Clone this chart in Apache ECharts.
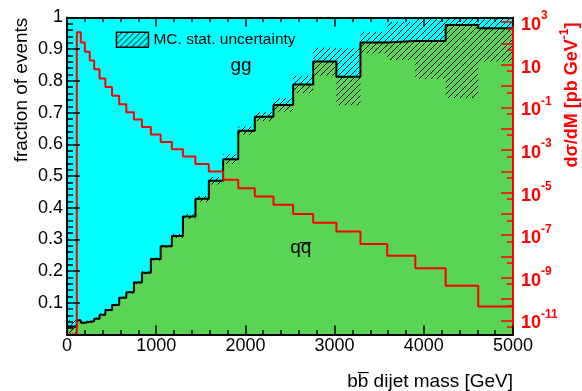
<!DOCTYPE html>
<html>
<head>
<meta charset="utf-8">
<script src="https://cdn.jsdelivr.net/npm/echarts@6/dist/echarts.min.js"></script>
<style>html,body{margin:0;padding:0;background:#fff}#c{width:582px;height:391px}</style>
</head>
<body>
<div id="c"></div>
<script>
// ---- data ----
const binEdges = [0,110,155,200,255,305,365,430,505,585,665,750,840,940,1050,1175,1300,1440,1590,1750,1920,2105,2315,2535,2760,3020,3290,3590,3905,4245,4610,5000];
const qqFraction = [0.025,0.045,0.037,0.040,0.042,0.050,0.062,0.077,0.093,0.116,0.133,0.164,0.195,0.238,0.278,0.311,0.372,0.428,0.485,0.553,0.643,0.687,0.724,0.789,0.861,0.813,0.921,0.926,0.926,0.976,0.966];
const qqFractionErr = [0.02,0.004,0.004,0.004,0.004,0.004,0.004,0.004,0.004,0.004,0.004,0.005,0.005,0.005,0.005,0.006,0.008,0.009,0.012,0.015,0.013,0.014,0.021,0.027,0.044,0.09,0.034,0.06,0.12,0.23,0.105];
const dSigmaDM = [0,340,112,41,16,6.2,2.3,0.91,0.355,0.141,0.059,0.027,0.012,5.4e-3,2.4e-3,1.1e-3,4.9e-4,2.2e-4,9.8e-5,4.0e-5,1.6e-5,6.5e-6,2.7e-6,1.0e-6,3.8e-7,1.5e-7,3.9e-8,1.1e-8,2.8e-9,4.3e-10,4.5e-11];
const xTickLabels = [0,1000,2000,3000,4000,5000];
const sigmaLabelExponents = [-11,-9,-7,-5,-3,-1,1,3];
const sigmaMajorExponents = [-11,-10,-9,-8,-7,-6,-5,-4,-3,-2,-1,0,1,2,3];
const sigmaLogRange = [-11.66, 3.22];

const FONT = 'Liberation Sans, Arial, Helvetica, sans-serif';

// hatch pattern
const pc = document.createElement('canvas');
pc.width = 6; pc.height = 6;
const g = pc.getContext('2d');
g.strokeStyle = '#000'; g.lineWidth = 1;
g.beginPath();
g.moveTo(0,6); g.lineTo(6,0);
g.moveTo(-1,1); g.lineTo(1,-1);
g.moveTo(5,7); g.lineTo(7,5);
g.stroke();
const hatch = {image: pc, repeat: 'repeat'};

const nb = qqFraction.length;
const fracLine = [];
const sigLine = [];
for (let i = 0; i < nb; i++) {
  fracLine.push([binEdges[i], qqFraction[i]]);
  sigLine.push([binEdges[i], dSigmaDM[i] > 0 ? Math.log10(dSigmaDM[i]) : sigmaLogRange[0]]);
}
fracLine.push([binEdges[nb], qqFraction[nb-1]]);
sigLine.push([binEdges[nb], Math.log10(dSigmaDM[nb-1])]);
const errData = [];
for (let i = 0; i < nb; i++) {
  errData.push([binEdges[i], binEdges[i+1], qqFraction[i]-qqFractionErr[i], qqFraction[i]+qqFractionErr[i]]);
}

const chart = echarts.init(document.getElementById('c'), null, {renderer: 'canvas'});
const tickStyle = {color: '#000', width: 1.5};
chart.setOption({
  animation: false,
  backgroundColor: '#fff',
  grid: {left: 67, right: 69, top: 17.5, bottom: 56.5, show: true, backgroundColor: '#00FFFF', borderWidth: 0},
  legend: {
    left: 115.7, top: 31.5, padding: 0, itemWidth: 32, itemHeight: 15, selectedMode: false,
    data: [{name: 'MC. stat. uncertainty', icon: 'rect', itemStyle: {color: hatch, borderColor: '#000', borderWidth: 1.5}}],
    textStyle: {fontSize: 15.5, color: '#000', fontFamily: FONT}
  },
  xAxis: [
    {type: 'value', position: 'bottom', min: 0, max: 5000, interval: 1000, z: 10,
     axisLine: {show: true, onZero: false, lineStyle: {color: '#000', width: 2}},
     axisTick: {show: true, inside: true, length: 9, lineStyle: tickStyle},
     minorTick: {show: true, splitNumber: 5, length: 4.5, lineStyle: tickStyle},
     axisLabel: {fontSize: 18, color: '#000', fontFamily: FONT, margin: 3,
                 customValues: xTickLabels, formatter: v => String(Math.round(v))},
     splitLine: {show: false}},
    {type: 'value', position: 'top', min: 0, max: 5000, interval: 1000, z: 10,
     axisLine: {show: true, onZero: false, lineStyle: {color: '#000', width: 2}},
     axisTick: {show: true, inside: true, length: 9, lineStyle: tickStyle},
     minorTick: {show: true, splitNumber: 5, length: 4.5, lineStyle: tickStyle},
     axisLabel: {show: false}, splitLine: {show: false}}
  ],
  yAxis: [
    {type: 'value', position: 'left', min: 0, max: 1, interval: 0.1, z: 10,
     axisLine: {show: true, onZero: false, lineStyle: {color: '#000', width: 2}},
     axisTick: {show: true, inside: true, length: 13, lineStyle: tickStyle},
     minorTick: {show: true, splitNumber: 5, length: 6, lineStyle: tickStyle},
     axisLabel: {fontSize: 18, color: '#000', fontFamily: FONT, margin: 4,
                 formatter: v => (Math.abs(v) < 1e-9 ? '' : String(+v.toFixed(1)))},
     splitLine: {show: false}},
    {type: 'value', position: 'right', min: sigmaLogRange[0], max: sigmaLogRange[1], z: 10,
     axisLine: {show: true, onZero: false, lineStyle: {color: '#FF0000', width: 2}},
     axisTick: {show: true, inside: true, length: 12, customValues: sigmaMajorExponents, lineStyle: {color: '#FF0000', width: 1.5}},
     axisLabel: {margin: 8, customValues: sigmaLabelExponents,
       formatter: v => { const n = Math.round(v); return n === 1 ? '{b|10}' : '{b|10}{s|' + n + '}'; },
       rich: {
         b: {fontSize: 18, fontWeight: 'bold', color: '#FF0000', fontFamily: FONT, lineHeight: 24, verticalAlign: 'bottom'},
         s: {fontSize: 12, fontWeight: 'bold', color: '#FF0000', fontFamily: FONT, lineHeight: 12, verticalAlign: 'top'}
       }},
     splitLine: {show: false}},
    {type: 'value', position: 'right', min: sigmaLogRange[0], max: sigmaLogRange[1], z: 10,
     axisLine: {show: false, onZero: false},
     axisTick: {show: true, inside: true, length: 6, customValues: sigmaMajorExponents.map(n => n - 0.301), lineStyle: {color: '#FF0000', width: 1.5}},
     axisLabel: {show: false}, splitLine: {show: false}}
  ],
  series: [
    {type: 'line', name: 'qq area', step: 'end', data: fracLine, symbol: 'none', z: 2,
     lineStyle: {width: 0}, areaStyle: {color: '#59D454', opacity: 1}, silent: true},
    {type: 'custom', name: 'MC. stat. uncertainty', z: 3, data: errData,
     encode: {x: [0, 1], y: [2, 3]},
     renderItem: (params, api) => {
       const p0 = api.coord([api.value(0), api.value(3)]);
       const p1 = api.coord([api.value(1), api.value(2)]);
       const rect = echarts.graphic.clipRectByRect(
         {x: p0[0], y: p0[1], width: p1[0] - p0[0], height: p1[1] - p0[1]},
         {x: params.coordSys.x, y: params.coordSys.y, width: params.coordSys.width, height: params.coordSys.height});
       if (!rect) return null;
       return {type: 'rect', shape: rect, style: {fill: hatch, stroke: null}};
     },
     itemStyle: {color: hatch}},
    {type: 'line', name: 'qq outline', step: 'end', data: fracLine, symbol: 'none', z: 4,
     lineStyle: {color: '#000', width: 2}},
    {type: 'line', name: 'dsigma', step: 'end', data: sigLine, yAxisIndex: 1, symbol: 'none', z: 5,
     lineStyle: {color: '#FF0000', width: 2}}
  ],
  graphic: [
    {type: 'text', x: 22, y: 90, rotation: Math.PI / 2, z: 20,
     style: {text: 'fraction of events', fontSize: 19, fontFamily: FONT, fill: '#000', align: 'center', verticalAlign: 'middle'}},
    {type: 'text', x: 570, y: 95, rotation: Math.PI / 2, z: 20,
     style: {text: '{a|d\u03c3/dM [pb GeV}{s|-1}{a|]}', align: 'center', verticalAlign: 'middle',
       rich: {
         a: {fontSize: 18, fontWeight: 'bold', fontFamily: FONT, fill: '#FF0000', lineHeight: 22, verticalAlign: 'bottom'},
         s: {fontSize: 12, fontWeight: 'bold', fontFamily: FONT, fill: '#FF0000', lineHeight: 12, verticalAlign: 'top'}
       }}},
    {type: 'text', x: 513, y: 381.5, z: 20,
     style: {text: 'bb\u0305 dijet mass [GeV]', fontSize: 19, fontFamily: FONT, fill: '#000', align: 'right', verticalAlign: 'middle'}},
    {type: 'text', x: 241, y: 66, z: 20,
     style: {text: 'gg', fontSize: 19, fontFamily: FONT, fill: '#000', align: 'center', verticalAlign: 'middle'}},
    {type: 'text', x: 300.7, y: 248, z: 20,
     style: {text: 'qq\u0305', fontSize: 19, fontFamily: FONT, fill: '#000', align: 'center', verticalAlign: 'middle'}}
  ]
});
</script>
</body>
</html>
